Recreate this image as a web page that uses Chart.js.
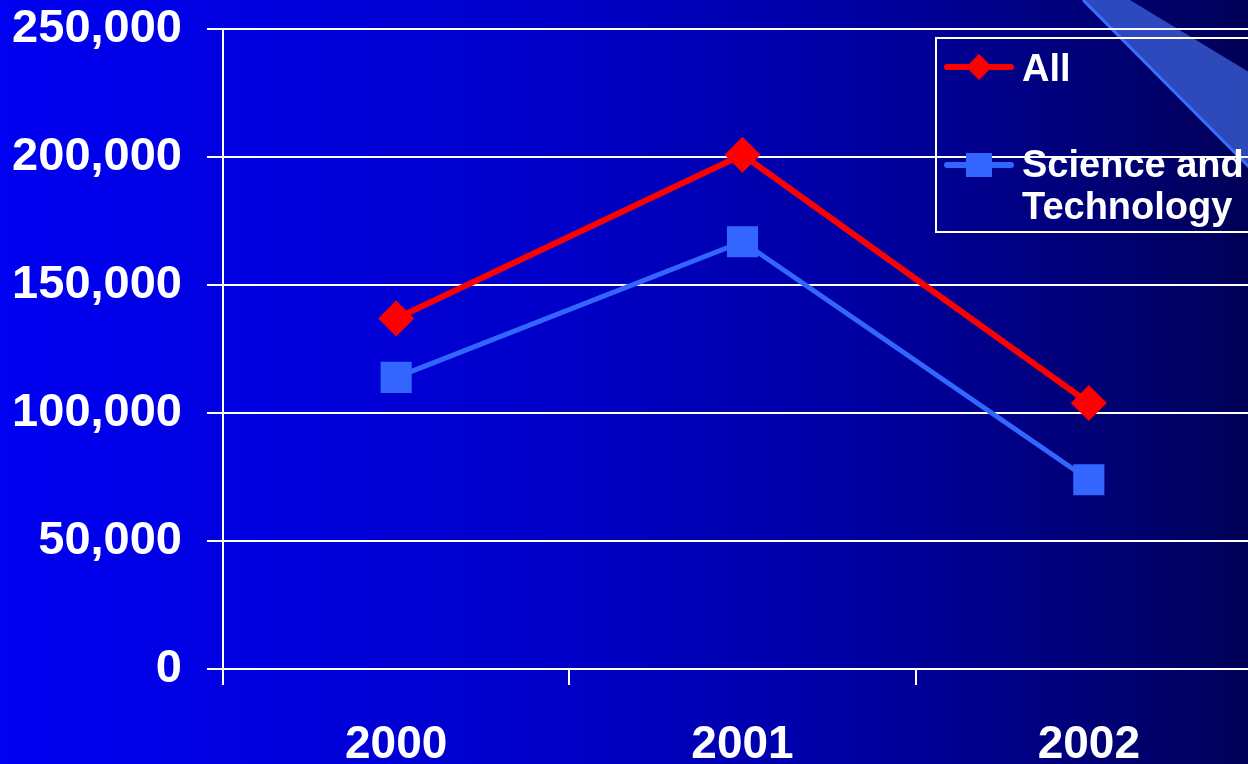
<!DOCTYPE html>
<html>
<head>
<meta charset="utf-8">
<script src="https://cdn.jsdelivr.net/npm/chart.js@4/dist/chart.umd.min.js"></script>
<style>
    html, body {
        margin: 0;
        padding: 0;
        width: 1248px;
        height: 764px;
        overflow: hidden;
        background: linear-gradient(to right, #0000f2 0%, #0000c8 45%, #0000a0 70%, #000058 100%);
        font-family: "Liberation Sans", Arial, sans-serif;
    }
    #wrap { position: absolute; left: 0; top: 0; width: 1284px; height: 764px; }
    #legendBox {
        position: absolute;
        left: 935px; top: 37px;
        width: 340px; height: 196px;
        box-sizing: border-box;
        border: 2px solid #ffffff;
    }
    .lg-icon { position: absolute; left: 943px; }
    .lg-text {
        position: absolute;
        left: 1022px;
        color: #ffffff;
        font-weight: bold;
        font-size: 38px;
        line-height: 42px;
        white-space: nowrap;
    }
</style>
</head>
<body>
<div id="wrap">
    <canvas id="chart" width="1284" height="764"></canvas>
    <div id="legendBox"></div>
</div>
<script>
const years = ['2000', '2001', '2002'];
const allValues = [137000, 201000, 104000];
const sciTechValues = [114000, 167000, 74000];
const yTicks = [0, 50000, 100000, 150000, 200000, 250000];

const allColor = '#ff0000';
const sciColor = '#3366ff';

// 右上の飾り帯（背景の上、グリッドの下）
const bandPlugin = {
    id: 'band',
    beforeDraw(chart) {
        const ctx = chart.ctx;
        ctx.save();
        ctx.fillStyle = 'rgba(64, 104, 225, 0.7)';
        ctx.beginPath();
        ctx.moveTo(1083, 0);
        ctx.lineTo(1130, 0);
        ctx.lineTo(1262, 80);
        ctx.lineTo(1262, 180);
        ctx.closePath();
        ctx.fill();
        ctx.strokeStyle = '#3d6dff';
        ctx.lineWidth = 3;
        ctx.beginPath();
        ctx.moveTo(1083, 0);
        ctx.lineTo(1262, 180);
        ctx.stroke();
        ctx.restore();
    }
};

const chart = new Chart(document.getElementById('chart'), {
    type: 'line',
    data: {
        labels: years,
        datasets: [
            {
                label: 'All',
                data: allValues,
                borderColor: allColor,
                backgroundColor: allColor,
                borderWidth: 6,
                pointStyle: 'rectRot',
                pointRadius: 18,
                pointBorderWidth: 0,
                tension: 0
            },
            {
                label: 'Science and\nTechnology',
                data: sciTechValues,
                borderColor: sciColor,
                backgroundColor: sciColor,
                borderWidth: 5,
                pointStyle: 'rect',
                pointRadius: 22,
                pointBorderWidth: 0,
                tension: 0
            }
        ]
    },
    options: {
        responsive: false,
        animation: false,
        devicePixelRatio: 1,
        layout: { padding: { top: 0, right: 0, bottom: 0, left: 0 } },
        plugins: {
            legend: { display: false },
            tooltip: { enabled: false }
        },
        scales: {
            x: {
                offset: true,
                grid: {
                    offset: true,
                    drawOnChartArea: false,
                    drawTicks: true,
                    tickLength: 16,
                    color: '#ffffff',
                    lineWidth: 2
                },
                border: { color: '#ffffff', width: 2 },
                ticks: {
                    color: '#ffffff',
                    padding: 33,
                    font: { family: 'Liberation Sans', size: 46, weight: 'bold' }
                },
                afterFit(scale) { scale.height = 95; }
            },
            y: {
                min: 0,
                max: 250000,
                afterBuildTicks(scale) {
                    scale.ticks = yTicks.map(v => ({ value: v }));
                },
                grid: {
                    color: '#ffffff',
                    lineWidth: 2,
                    tickLength: 16
                },
                border: { color: '#ffffff', width: 2 },
                ticks: {
                    color: '#ffffff',
                    padding: 25,
                    font: { family: 'Liberation Sans', size: 47, weight: 'bold', lineHeight: 0.19 },
                    callback: v => v.toLocaleString('en-US')
                },
                afterFit(scale) { scale.width = 223; }
            }
        }
    },
    plugins: [bandPlugin]
});

// 凡例（HTML）
const wrap = document.getElementById('wrap');
const legendRows = [
    { iconTop: 53, textTop: 47 },
    { iconTop: 151, textTop: 143 }
];
chart.data.datasets.forEach((ds, i) => {
    const row = legendRows[i];
    const svgNS = 'http://www.w3.org/2000/svg';
    const svg = document.createElementNS(svgNS, 'svg');
    svg.setAttribute('width', '72');
    svg.setAttribute('height', '28');
    svg.setAttribute('class', 'lg-icon');
    svg.style.top = row.iconTop + 'px';
    const line = document.createElementNS(svgNS, 'line');
    line.setAttribute('x1', '4'); line.setAttribute('x2', '68');
    line.setAttribute('y1', '14'); line.setAttribute('y2', '14');
    line.setAttribute('stroke', ds.borderColor);
    line.setAttribute('stroke-width', '6');
    line.setAttribute('stroke-linecap', 'round');
    svg.appendChild(line);
    let mark;
    if (ds.pointStyle === 'rectRot') {
        mark = document.createElementNS(svgNS, 'polygon');
        mark.setAttribute('points', '36,1 49,14 36,27 23,14');
    } else {
        mark = document.createElementNS(svgNS, 'rect');
        mark.setAttribute('x', '23'); mark.setAttribute('y', '2');
        mark.setAttribute('width', '26'); mark.setAttribute('height', '24');
    }
    mark.setAttribute('fill', ds.backgroundColor);
    svg.appendChild(mark);
    wrap.appendChild(svg);

    const txt = document.createElement('div');
    txt.className = 'lg-text';
    txt.style.top = row.textTop + 'px';
    txt.innerHTML = ds.label.split('\n').join('<br>');
    wrap.appendChild(txt);
});
</script>
</body>
</html>
